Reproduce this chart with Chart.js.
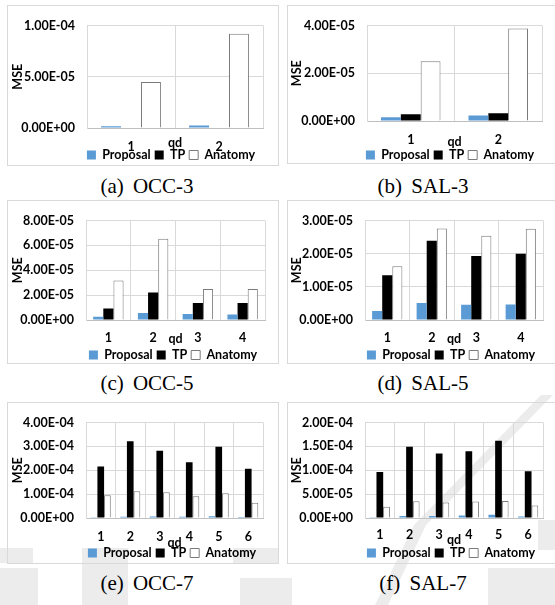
<!DOCTYPE html>
<html>
<head>
<meta charset="utf-8">
<script src="https://cdn.jsdelivr.net/npm/chart.js@4.4.0/dist/chart.umd.min.js"></script>
<style>
  html, body { margin: 0; padding: 0; background: #fff; }
  body { position: relative; width: 555px; height: 605px; overflow: hidden; font-family: Lato, sans-serif; }
  .mark { position: absolute; left: 0; top: 0; }
  .panel { position: absolute; border: 1px solid #d9d9d9; box-sizing: border-box; }
  .panel canvas { position: absolute; left: 0; top: 0; }
  .cap { position: absolute; font-family: "Liberation Serif", "Times New Roman", serif; font-size: 21px;
         line-height: 21px; white-space: nowrap; word-spacing: 4px; color: #000; transform: translateX(-50%); }
</style>
</head>
<body>

<!-- faint publisher mark behind the figure -->
<svg class="mark" width="555" height="605" viewBox="0 0 555 605">
  <g fill="#ececec">
    <polygon points="541,395 553,395 426,525 388,605 375,605 414,525"/>
    <rect x="0" y="548" width="33" height="15"/>
    <rect x="0" y="568" width="38" height="37"/>
    <rect x="82" y="548" width="46" height="57"/>
    <rect x="233" y="548" width="46" height="15"/>
    <rect x="240" y="578" width="52" height="27"/>
    <rect x="488" y="568" width="67" height="37"/>
    <rect x="538" y="520" width="17" height="30"/>
  </g>
</svg>

<div class="panel" style="left:7px;top:5px;width:272px;height:161px"><canvas id="cA" width="270" height="159"></canvas></div>
<div class="panel" style="left:287px;top:5px;width:270px;height:159px"><canvas id="cB" width="268" height="157"></canvas></div>
<div class="panel" style="left:7px;top:200px;width:272px;height:164px"><canvas id="cC" width="270" height="162"></canvas></div>
<div class="panel" style="left:287px;top:200px;width:270px;height:164px"><canvas id="cD" width="268" height="162"></canvas></div>
<div class="panel" style="left:7px;top:402px;width:272px;height:162px"><canvas id="cE" width="270" height="160"></canvas></div>
<div class="panel" style="left:287px;top:402px;width:270px;height:162px"><canvas id="cF" width="268" height="160"></canvas></div>

<div class="cap" style="left:147px;top:176px">(a) OCC-3</div>
<div class="cap" style="left:423px;top:176px">(b) SAL-3</div>
<div class="cap" style="left:147px;top:373px">(c) OCC-5</div>
<div class="cap" style="left:423px;top:373px">(d) SAL-5</div>
<div class="cap" style="left:147px;top:573px">(e) OCC-7</div>
<div class="cap" style="left:423px;top:573px">(f) SAL-7</div>

<script>
// ---- data: MSE per query dimension (qd) ----
const occ3Categories = ['1', '2'];
const occ3Proposal   = [1.6e-6, 2.4e-6];
const occ3TP         = [5e-7, 6e-7];
const occ3Anatomy    = [4.5e-5, 9.2e-5];
const occ3Ticks      = [0, 5e-5, 1e-4];

const sal3Categories = ['1', '2'];
const sal3Proposal   = [1.6e-6, 2.3e-6];
const sal3TP         = [2.8e-6, 3.2e-6];
const sal3Anatomy    = [2.5e-5, 3.87e-5];
const sal3Ticks      = [0, 2e-5, 4e-5];

const occ5Categories = ['1', '2', '3', '4'];
const occ5Proposal   = [2.6e-6, 5.6e-6, 4.9e-6, 4.5e-6];
const occ5TP         = [9.2e-6, 2.21e-5, 1.36e-5, 1.36e-5];
const occ5Anatomy    = [3.17e-5, 6.54e-5, 2.5e-5, 2.5e-5];
const occ5Ticks      = [0, 2e-5, 4e-5, 6e-5, 8e-5];

const sal5Categories = ['1', '2', '3', '4'];
const sal5Proposal   = [2.75e-6, 5.1e-6, 4.6e-6, 4.7e-6];
const sal5TP         = [1.35e-5, 2.39e-5, 1.93e-5, 2.0e-5];
const sal5Anatomy    = [1.62e-5, 2.76e-5, 2.54e-5, 2.75e-5];
const sal5Ticks      = [0, 1e-5, 2e-5, 3e-5];

const occ7Categories = ['1', '2', '3', '4', '5', '6'];
const occ7Proposal   = [3e-6, 5e-6, 6e-6, 5e-6, 7e-6, 4e-6];
const occ7TP         = [2.16e-4, 3.21e-4, 2.82e-4, 2.34e-4, 2.98e-4, 2.06e-4];
const occ7Anatomy    = [9.5e-5, 1.12e-4, 1.08e-4, 9.1e-5, 1.04e-4, 6.4e-5];
const occ7Ticks      = [0, 1e-4, 2e-4, 3e-4, 4e-4];

const sal7Categories = ['1', '2', '3', '4', '5', '6'];
const sal7Proposal   = [1.5e-6, 4.4e-6, 4.4e-6, 5e-6, 7e-6, 3.2e-6];
const sal7TP         = [9.65e-5, 1.49e-4, 1.35e-4, 1.4e-4, 1.62e-4, 9.8e-5];
const sal7Anatomy    = [2.35e-5, 3.5e-5, 3.24e-5, 3.43e-5, 3.56e-5, 2.6e-5];
const sal7Ticks      = [0, 5e-5, 1e-4, 1.5e-4, 2e-4];

const seriesNames = ['Proposal', 'TP', 'Anatomy'];

// ---- styling ----
const BLUE = '#5b9bd5';
const GRID = '#d9d9d9';
const AXIS = '#bfbfbf';
const boldFont = { family: 'Lato, "Liberation Sans", sans-serif', size: 12.5, weight: 'bold', lineHeight: 1.2 };
const LEGEND_PAD = 4;

// Excel-like scientific label: 1.00E-04, 0.00E+00
function sci(v) {
  if (v === 0) return '0.00E+00';
  const e = Math.floor(Math.log10(Math.abs(v)) + 1e-9);
  const m = v / Math.pow(10, e);
  return m.toFixed(2) + 'E' + (e < 0 ? '-' : '+') + String(Math.abs(e)).padStart(2, '0');
}

// moves the legend row so that its text is centred on (cx, cy)
const legendPlacer = {
  id: 'legendPlacer',
  afterLayout(chart, args, opts) {
    const lg = chart.legend;
    if (!lg || opts.cx == null) return;
    const dx = opts.cx - (lg.left + lg.right) / 2;
    lg.left += dx; lg.right += dx;
    lg.top = opts.cy - LEGEND_PAD - boldFont.size / 2;
    lg.height = boldFont.size + 2 * LEGEND_PAD + 4;
    lg.bottom = lg.top + lg.height;
  }
};

// g: plot box (cl, cr, ct, cb), legend centre (lc, lb from bottom),
//    axis title offsets (msex, qd) and tick label offset (tk)
function drawPanel(id, cats, prop, tp, anat, ticks, g) {
  const canvas = document.getElementById(id);
  const W = canvas.width, H = canvas.height;
  const half = boldFont.size * boldFont.lineHeight / 2;
  const xH = g.tk + 12;                 // x scale band: tick labels fit inside
  const legendH = H - g.cb - xH;        // remaining strip (legend is re-placed)

  new Chart(canvas, {
    type: 'bar',
    plugins: [legendPlacer],
    data: {
      labels: cats,
      datasets: [
        { label: seriesNames[0], data: prop, backgroundColor: BLUE, borderWidth: 0 },
        { label: seriesNames[1], data: tp, backgroundColor: '#000000', borderWidth: 0 },
        { label: seriesNames[2], data: anat, backgroundColor: '#ffffff', borderColor: '#7a7a7a', borderWidth: 1 }
      ]
    },
    options: {
      responsive: false,
      animation: false,
      devicePixelRatio: 1,
      categoryPercentage: 0.68,
      barPercentage: 1.0,
      layout: { padding: { left: 0, right: W - g.cr, top: g.ct, bottom: 0 } },
      plugins: {
        tooltip: { enabled: false },
        legendPlacer: { cx: g.lc, cy: H - g.lb },
        legend: {
          position: 'bottom',
          maxHeight: legendH,
          labels: { boxWidth: 9, boxHeight: 9, padding: LEGEND_PAD, font: boldFont, color: '#000' }
        }
      },
      scales: {
        x: {
          grid: { color: GRID, drawTicks: false, offset: true },
          border: { color: AXIS },
          ticks: { font: boldFont, color: '#000', padding: g.tk - half, maxRotation: 0, autoSkip: false },
          title: { display: true, text: 'qd', font: boldFont, color: '#000',
                   padding: { top: 0, bottom: xH - half - g.qd } },
          afterFit(s) { s.height = xH; }
        },
        y: {
          min: 0,
          max: ticks[ticks.length - 1],
          grid: { color: GRID, drawTicks: false },
          border: { display: true, color: GRID },
          ticks: { font: boldFont, color: '#000', padding: 12, callback: v => sci(v) },
          afterBuildTicks(s) { s.ticks = ticks.map(v => ({ value: v })); },
          title: { display: true, text: 'MSE', font: boldFont, color: '#000',
                   padding: { top: g.msex - half, bottom: 0 } },
          afterFit(s) { s.width = g.cl; }
        }
      }
    }
  });
}

drawPanel('cA', occ3Categories, occ3Proposal, occ3TP, occ3Anatomy, occ3Ticks,
  { cl: 79, cr: 255, ct: 9,  cb: 122, lb: 10, lc: 163, msex: 10,  qd: 15, tk: 19 });
drawPanel('cB', sal3Categories, sal3Proposal, sal3TP, sal3Anatomy, sal3Ticks,
  { cl: 79, cr: 254, ct: 10, cb: 115, lb: 8,  lc: 162, msex: 8.7, qd: 21, tk: 19 });
drawPanel('cC', occ5Categories, occ5Proposal, occ5TP, occ5Anatomy, occ5Ticks,
  { cl: 78, cr: 257, ct: 13, cb: 119, lb: 8,  lc: 165, msex: 10.3, qd: 19, tk: 18 });
drawPanel('cD', sal5Categories, sal5Proposal, sal5TP, sal5Anatomy, sal5Ticks,
  { cl: 77, cr: 255, ct: 13, cb: 119, lb: 8,  lc: 163, msex: 8.7, qd: 19, tk: 18 });
drawPanel('cE', occ7Categories, occ7Proposal, occ7TP, occ7Anatomy, occ7Ticks,
  { cl: 78, cr: 255, ct: 10, cb: 115, lb: 10, lc: 164, msex: 10.3, qd: 25, tk: 19 });
drawPanel('cF', sal7Categories, sal7Proposal, sal7TP, sal7Anatomy, sal7Ticks,
  { cl: 77, cr: 255, ct: 10, cb: 115, lb: 10, lc: 163, msex: 8.7, qd: 22, tk: 17 });
</script>
</body>
</html>
